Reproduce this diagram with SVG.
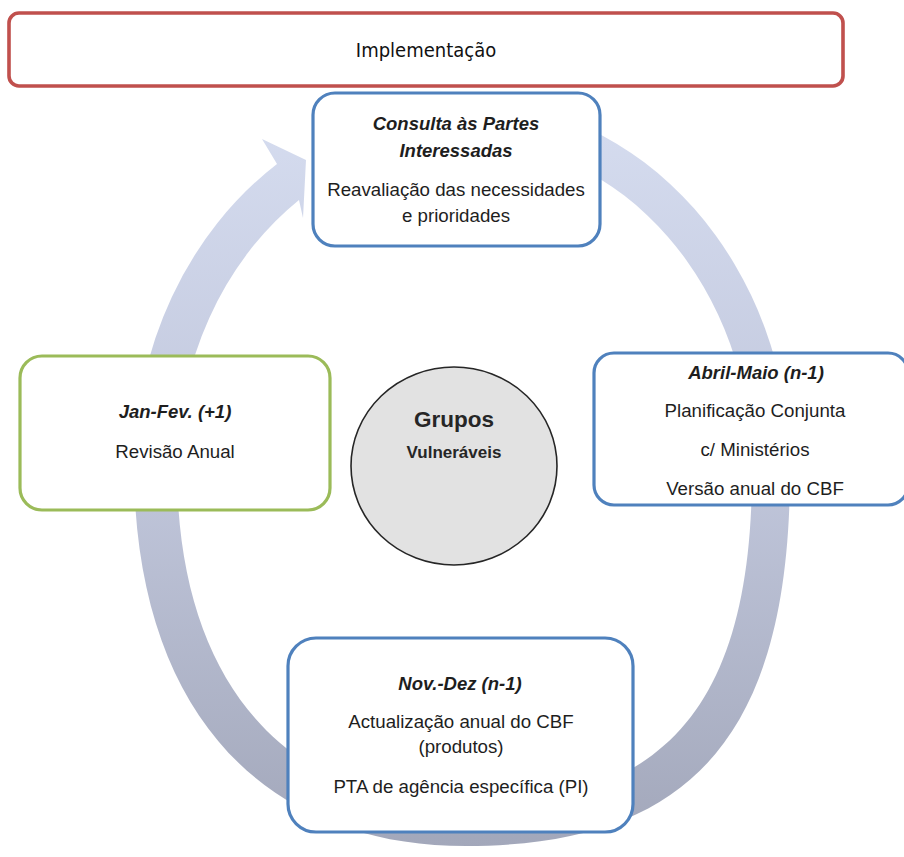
<svg xmlns="http://www.w3.org/2000/svg" width="904" height="857" viewBox="0 0 904 857">
<defs>
<linearGradient id="ringGrad" gradientUnits="userSpaceOnUse" x1="0" y1="100" x2="0" y2="850">
<stop offset="0" stop-color="#D6DDF0"/>
<stop offset="0.45" stop-color="#C3C9DE"/>
<stop offset="1" stop-color="#A2A7BA"/>
</linearGradient>
<style>
.box{fill:#FFFFFF;stroke-width:3.2}
.blue{stroke:#4F81BD}
.green{stroke:#9BBB59}
.red{stroke:#C0504D;stroke-width:3.6}
.t{font-family:"Liberation Sans",Arial,sans-serif;font-size:18.7px;fill:#1E1E1E;text-anchor:middle}
.h{font-family:"Liberation Sans",Arial,sans-serif;font-size:18.5px;font-weight:bold;font-style:italic;fill:#1E1E1E;text-anchor:middle}
.imp{font-family:"DejaVu Sans Condensed","DejaVu Sans",sans-serif;font-stretch:condensed;font-size:20px;fill:#111111;text-anchor:middle}
.c{font-family:"Liberation Sans",Arial,sans-serif;font-weight:bold;fill:#262626;text-anchor:middle}
</style>
</defs>
<rect width="904" height="857" fill="#FFFFFF"/>

<g id="connectors">
<path id="cycle-arrow" fill="url(#ringGrad)" d="M 462,100 A 328 370 0 0 1 790,470 C 790,733 693,846 466,846 C 262,846 136,710 134,470 A 328 370 0 0 1 277,164 L 262,139 L 306,160 L 303,218 L 299,200 A 287.5 330 0 0 0 177,470 C 178,684 287,805 466,805 C 666,805 752,704.5 752,470 A 287.5 330 0 0 0 464.5,140 Z"/>
</g>

<g id="node-implementacao">
<rect class="box red" x="9" y="13" width="834" height="73" rx="10"/>
<text class="imp" x="426" y="57">Implementação</text>
</g>

<g id="node-consulta">
<rect class="box blue" x="313" y="93" width="287" height="153" rx="22"/>
<text class="h" x="456" y="130">Consulta às Partes</text>
<text class="h" x="456" y="157">Interessadas</text>
<text class="t" x="456" y="196">Reavaliação das necessidades</text>
<text class="t" x="456" y="222">e prioridades</text>
</g>

<g id="node-janfev">
<rect class="box green" x="20" y="356" width="310" height="154" rx="22"/>
<text class="h" x="175" y="418">Jan-Fev. (+1)</text>
<text class="t" x="175" y="458">Revisão Anual</text>
</g>

<g id="node-grupos">
<ellipse cx="454" cy="466" rx="103" ry="99" fill="#E2E2E2" stroke="#262626" stroke-width="1.6"/>
<text class="c" x="454" y="427" font-size="22.5px">Grupos</text>
<text class="c" x="454" y="458" font-size="17px">Vulneráveis</text>
</g>

<g id="node-abril">
<rect class="box blue" x="594" y="353" width="314" height="152" rx="20"/>
<text class="h" x="756" y="379">Abril-Maio (n-1)</text>
<text class="t" x="755" y="417">Planificação Conjunta</text>
<text class="t" x="755" y="456">c/ Ministérios</text>
<text class="t" x="755" y="495">Versão anual do CBF</text>
</g>

<g id="node-novdez">
<rect class="box blue" x="288" y="638" width="345" height="194" rx="28"/>
<text class="h" x="460" y="690">Nov.-Dez (n-1)</text>
<text class="t" x="461" y="728">Actualização anual do CBF</text>
<text class="t" x="461" y="753">(produtos)</text>
<text class="t" x="461" y="793">PTA de agência específica (PI)</text>
</g>
</svg>
